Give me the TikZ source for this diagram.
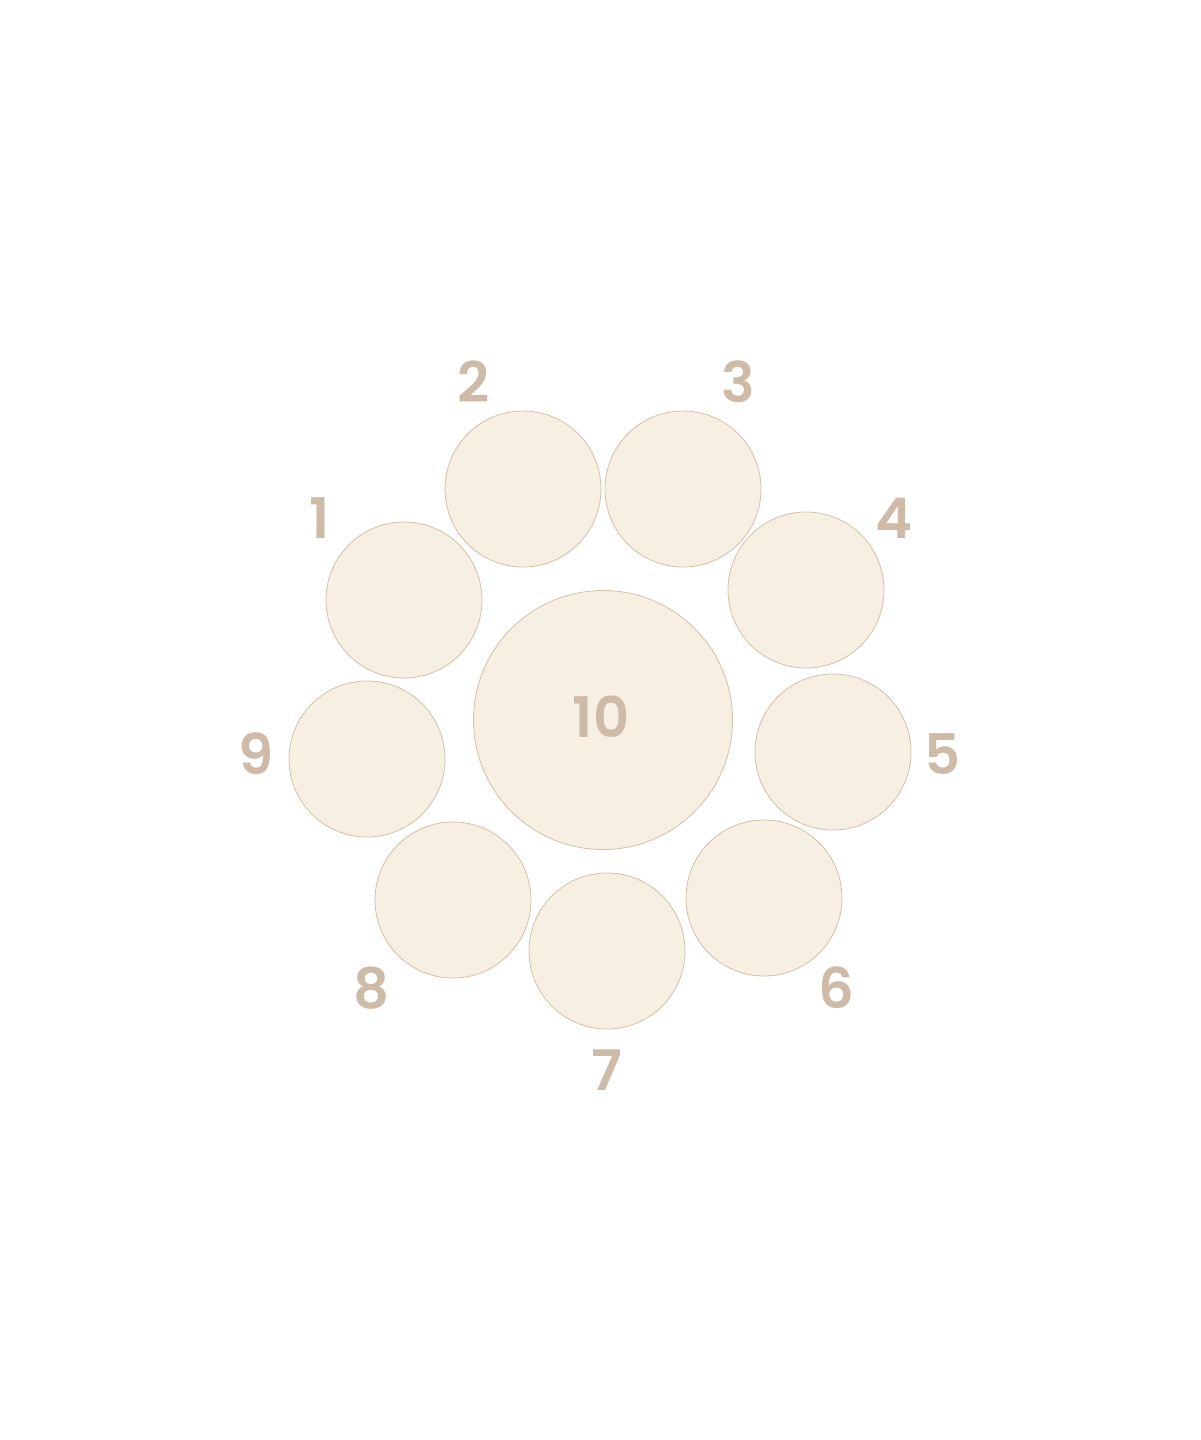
\documentclass[tikz,border=0pt]{standalone}
\usepackage{fontspec}
\setmainfont{Poppins}[BoldFont={* SemiBold}]
\definecolor{seatfill}{HTML}{F7EFE1}
\definecolor{seatline}{HTML}{D4C0AA}
\definecolor{numcol}{HTML}{CDBBA8}
\begin{document}
\begin{tikzpicture}[x=1pt,y=-1pt,
  seat/.style={circle,draw=seatline,fill=seatfill,line width=0.8pt,minimum size=156pt,inner sep=0pt},
  table/.style={circle,draw=seatline,fill=seatfill,line width=0.8pt,minimum size=259pt,inner sep=0pt},
  num/.style={text=numcol,font=\fontsize{56}{56}\selectfont\bfseries,inner sep=0pt}]
\useasboundingbox (0,0) rectangle (1200,1440);
\node[table] (t) at (603,720) {};
\node[num] at (601,717) {10};
\node[seat] (s1) at (404,600) {};
\node[seat] (s2) at (523,489) {};
\node[seat] (s3) at (683,489) {};
\node[seat] (s4) at (806,590) {};
\node[seat] (s5) at (833,752) {};
\node[seat] (s6) at (764,898) {};
\node[seat] (s7) at (607,951) {};
\node[seat] (s8) at (453,900) {};
\node[seat] (s9) at (367,759) {};
\node[num] (l1) at (320,518) {1};
\node[num] (l2) at (474,382) {2};
\node[num] (l3) at (738,382) {3};
\node[num] (l4) at (894,518) {4};
\node[num] (l5) at (943,754) {5};
\node[num] (l6) at (836,988) {6};
\node[num] (l7) at (607,1070) {7};
\node[num] (l8) at (371,988) {8};
\node[num] (l9) at (256,754) {9};
\end{tikzpicture}
\end{document}
